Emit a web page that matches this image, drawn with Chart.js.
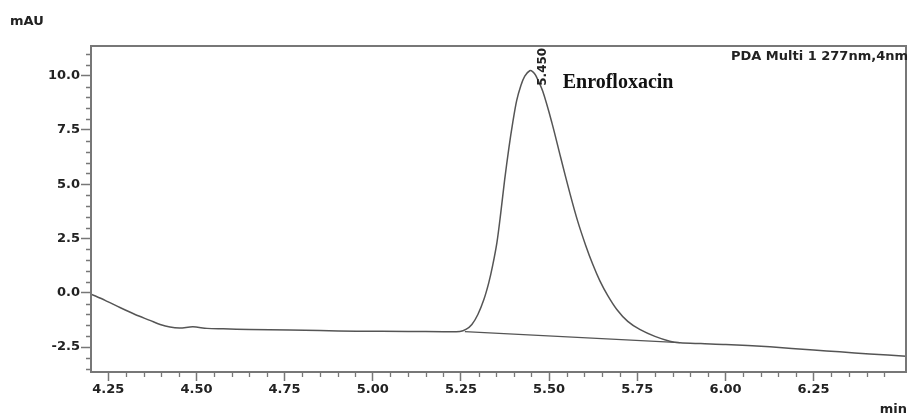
<!DOCTYPE html>
<html>
<head>
<meta charset="utf-8">
<script src="https://cdn.jsdelivr.net/npm/chart.js@4.4.0/dist/chart.umd.min.js"></script>
<style>
  html, body { margin: 0; padding: 0; background: #ffffff; }
  #wrap { width: 908px; height: 414px; position: relative; }
</style>
</head>
<body>
<div id="wrap"><canvas id="c" width="908" height="414"></canvas></div>
<script>
// ---- data ----
const times = [4.201, 4.241, 4.283, 4.326, 4.368, 4.397, 4.425, 4.453, 4.490, 4.530, 4.576, 4.650, 4.765, 4.850, 4.954, 5.100, 5.200, 5.247, 5.264, 5.281, 5.298, 5.315, 5.329, 5.340, 5.352, 5.363, 5.374, 5.386, 5.397, 5.408, 5.420, 5.431, 5.445, 5.454, 5.462, 5.482, 5.508, 5.533, 5.559, 5.581, 5.604, 5.624, 5.644, 5.666, 5.692, 5.723, 5.757, 5.800, 5.842, 5.871, 5.930, 6.001, 6.126, 6.250, 6.324, 6.409, 6.512];
const signal = [-0.06, -0.35, -0.68, -1.00, -1.27, -1.46, -1.58, -1.62, -1.57, -1.64, -1.66, -1.69, -1.72, -1.74, -1.77, -1.78, -1.79, -1.78, -1.69, -1.46, -1.00, -0.31, 0.47, 1.26, 2.31, 3.69, 5.21, 6.68, 7.85, 8.85, 9.55, 9.98, 10.23, 10.18, 10.02, 9.28, 7.83, 6.22, 4.58, 3.30, 2.17, 1.30, 0.55, -0.12, -0.77, -1.32, -1.69, -2.01, -2.23, -2.30, -2.34, -2.38, -2.49, -2.64, -2.72, -2.82, -2.92];
const baseTimes = [5.261, 5.871];
const baseSignal = [-1.79, -2.30];
const xTicks = [4.25, 4.50, 4.75, 5.00, 5.25, 5.50, 5.75, 6.00, 6.25];
const xTickLabels = ['4.25', '4.50', '4.75', '5.00', '5.25', '5.50', '5.75', '6.00', '6.25'];
const yTicks = [-2.5, 0.0, 2.5, 5.0, 7.5, 10.0];
const yTickLabels = ['-2.5', '0.0', '2.5', '5.0', '7.5', '10.0'];
const peakTime = 5.445;
const peakValue = 10.23;
const peakLabel = '5.450';
const peakName = 'Enrofloxacin';
const yUnit = 'mAU';
const xUnit = 'min';
const detector = 'PDA Multi 1 277nm,4nm';
const xRange = [4.201, 6.512];
const yRange = [-3.65, 11.37];

const FONT = '"DejaVu Sans", sans-serif';
const LINE = '#555555';
const AXIS = '#777777';
const TEXT = '#222222';

const mainData = times.map((t, i) => ({ x: t, y: signal[i] }));
const baseData = baseTimes.map((t, i) => ({ x: t, y: baseSignal[i] }));

const decor = {
  id: 'decor',
  afterDraw(chart) {
    const ctx = chart.ctx;
    const a = chart.chartArea;
    const xs = chart.scales.x, ys = chart.scales.y;
    ctx.save();
    // frame
    ctx.strokeStyle = AXIS;
    ctx.lineWidth = 2;
    ctx.strokeRect(a.left, a.top, a.right - a.left, a.bottom - a.top);
    // minor ticks
    ctx.lineWidth = 1.3;
    ctx.beginPath();
    for (let k = -7; k <= 22; k++) {
      const v = k * 0.5;
      if (v < ys.min || v > ys.max) continue;
      if (Math.abs(v / 2.5 - Math.round(v / 2.5)) < 1e-6) continue;
      const py = Math.round(ys.getPixelForValue(v)) + 0.5;
      ctx.moveTo(a.left - 5, py); ctx.lineTo(a.left, py);
    }
    for (let k = 84; k <= 131; k++) {
      const v = k * 0.05;
      if (v < xs.min || v > xs.max) continue;
      if (Math.abs(v / 0.25 - Math.round(v / 0.25)) < 1e-6) continue;
      const px = Math.round(xs.getPixelForValue(v)) + 0.5;
      ctx.moveTo(px, a.bottom); ctx.lineTo(px, a.bottom + 5);
    }
    ctx.stroke();
    // texts
    ctx.fillStyle = TEXT;
    ctx.font = 'bold 13px ' + FONT;
    ctx.textBaseline = 'alphabetic';
    ctx.textAlign = 'left';
    ctx.fillText(yUnit, 10, 25);
    ctx.textAlign = 'right';
    ctx.fillText(detector, 908, 60);
    ctx.fillText(xUnit, 907, 413);
    // peak labels
    const apx = xs.getPixelForValue(peakTime);
    const apy = ys.getPixelForValue(peakValue);
    ctx.save();
    ctx.translate(apx + 13, apy + 15);
    ctx.rotate(-Math.PI / 2);
    ctx.textAlign = 'left';
    ctx.textBaseline = 'middle';
    ctx.font = 'bold 12px ' + FONT;
    ctx.fillText(peakLabel, 0, 0);
    ctx.restore();
    ctx.textAlign = 'left';
    ctx.textBaseline = 'alphabetic';
    ctx.font = 'bold 20px "Liberation Serif", "Times New Roman", serif';
    ctx.fillStyle = '#111';
    ctx.fillText(peakName, apx + 33, apy + 17);
    ctx.restore();
  }
};

new Chart(document.getElementById('c'), {
  type: 'line',
  data: {
    datasets: [
      { data: mainData, borderColor: LINE, borderWidth: 1.5, pointRadius: 0, fill: false, tension: 0.3 },
      { data: baseData, borderColor: LINE, borderWidth: 1.3, pointRadius: 0, fill: false, tension: 0 }
    ]
  },
  options: {
    responsive: false,
    animation: false,
    devicePixelRatio: 1,
    layout: { padding: { left: 0, right: 2, top: 46, bottom: 0 } },
    plugins: { legend: { display: false }, tooltip: { enabled: false }, title: { display: false } },
    scales: {
      x: {
        type: 'linear',
        min: xRange[0], max: xRange[1],
        afterBuildTicks: (s) => { s.ticks = xTicks.map(v => ({ value: v })); },
        afterFit: (s) => { s.height = 42; },
        ticks: {
          callback: (v) => { const i = xTicks.findIndex(t => Math.abs(t - v) < 1e-6); return i >= 0 ? xTickLabels[i] : ''; },
          font: { family: FONT, size: 13, weight: 'bold' }, color: TEXT, padding: 1, maxRotation: 0, autoSkip: false
        },
        grid: { display: true, drawOnChartArea: false, drawTicks: true, tickLength: 9, tickColor: AXIS, tickWidth: 1.5 },
        border: { display: false }
      },
      y: {
        type: 'linear',
        min: yRange[0], max: yRange[1],
        afterBuildTicks: (s) => { s.ticks = yTicks.map(v => ({ value: v })); },
        afterFit: (s) => { s.width = 91; },
        ticks: {
          callback: (v) => { const i = yTicks.findIndex(t => Math.abs(t - v) < 1e-6); return i >= 0 ? yTickLabels[i] : ''; },
          font: { family: FONT, size: 13, weight: 'bold' }, color: TEXT, padding: 1, autoSkip: false
        },
        grid: { display: true, drawOnChartArea: false, drawTicks: true, tickLength: 10, tickColor: AXIS, tickWidth: 1.5 },
        border: { display: false }
      }
    }
  },
  plugins: [decor]
});
</script>
</body>
</html>
